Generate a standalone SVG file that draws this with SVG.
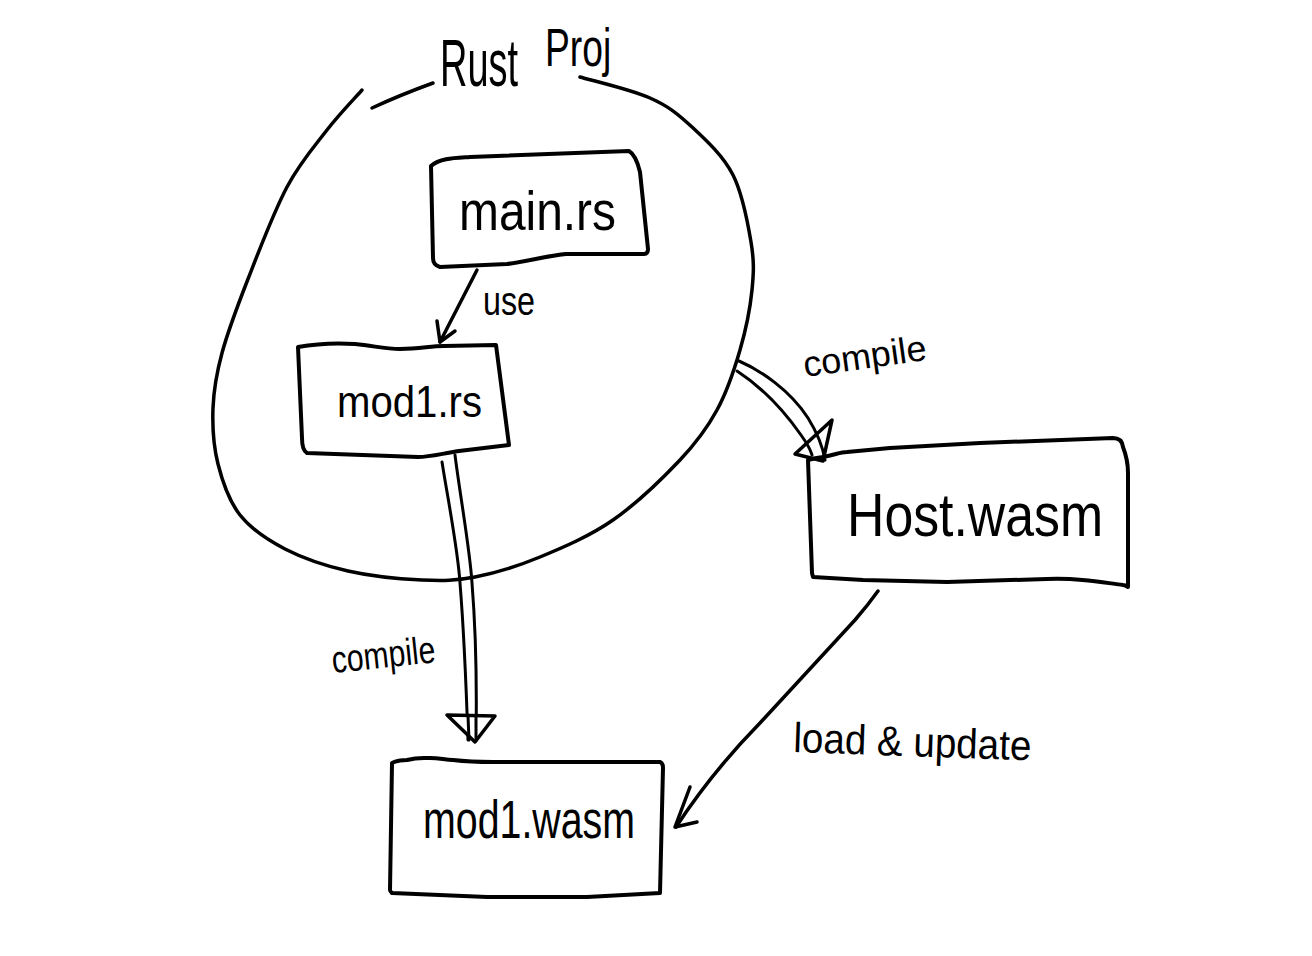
<svg xmlns="http://www.w3.org/2000/svg" width="1312" height="956" viewBox="0 0 1312 956">
<style>
.ln{fill:none;stroke:#000;stroke-width:3.5;stroke-linecap:round;stroke-linejoin:round}
.bx{fill:none;stroke:#000;stroke-width:4;stroke-linecap:round;stroke-linejoin:round}
.dl{fill:none;stroke:#000;stroke-width:3;stroke-linecap:round;stroke-linejoin:round}
.hd{fill:#fff;stroke:#000;stroke-width:3.5;stroke-linejoin:round}
text{font-family:"Liberation Sans",Arial,sans-serif;fill:#000}
</style>
<rect width="1312" height="956" fill="#fff"/>
<g id="rust-proj">
<path class="ln" d="M362,90 C356.2,96.7 339.5,113.8 327,130 C314.5,146.2 300.2,162.2 287,187 C273.8,211.8 258.8,251.3 248,279 C237.2,306.7 227.8,331.5 222,353 C216.2,374.5 213.7,389.5 213,408 C212.3,426.5 213.5,446.2 218,464 C222.5,481.8 228.8,500.8 240,515 C251.2,529.2 267,539.7 285,549 C303,558.3 325.2,565.8 348,571 C370.8,576.2 400.8,579 422,580 C443.2,581 455.3,580.8 475,577 C494.7,573.2 517,566.5 540,557 C563,547.5 589.7,536.2 613,520 C636.3,503.8 662.7,478.3 680,460 C697.3,441.7 707,428.3 717,410 C727,391.7 734.2,370 740,350 C745.8,330 750.2,308 752,290 C753.8,272 754.2,261.2 751,242 C747.8,222.8 742.8,194.2 733,175 C723.2,155.8 705.8,139.8 692,127 C678.2,114.2 668.7,106.3 650,98 C631.3,89.7 591.7,80.5 580,77"/>
<path class="ln" d="M372,108 Q400,95 433,83"/>
<text font-size="66" transform="translate(440 86) scale(0.575 1)">Rust</text>
<text font-size="54" transform="translate(545 66) scale(0.69 1)">Proj</text>
</g>
<g id="main-rs">
<path class="bx" d="M431,166 C440,158 455,158 470,157 L629,151 Q636,155 640,172 L648,249 Q648,254 644,254 L566,254 C545,256 525,262 507,264 L440,267 Q433,265 433,258 Z"/>
<text x="459" y="230" font-size="56" textLength="157" lengthAdjust="spacingAndGlyphs">main.rs</text>
</g>
<g id="mod1-rs">
<path class="bx" d="M298,347 C320,343 340,343 355,344 C375,346 385,349 400,349 C420,349 430,346 444,346 L496,345 L509,445 L459,451 C440,454 430,457 418,457 L307,453 Q302,450 302,438 Z"/>
<text x="337" y="417" font-size="44" textLength="145" lengthAdjust="spacingAndGlyphs">mod1.rs</text>
</g>
<g id="host-wasm">
<path class="bx" d="M808,460 Q815,458 823,457 C835,455 840,452 847,452 L890,448 L980,443 L1113,438 Q1122,438 1123,447 Q1128,460 1128,473 L1128,587 Q1125,585 1123,585 C1100,582 1080,578 1047,579 L947,582 L863,580 L813,577 L812,573 Z"/>
<text x="847" y="536" font-size="62" textLength="256" lengthAdjust="spacingAndGlyphs">Host.wasm</text>
</g>
<g id="mod1-wasm">
<path class="bx" d="M392,763 Q398,760 407,760 C418,757 425,758 430,758 C440,758 445,760 453,760 C470,762 480,762 493,762 L573,762 L660,762 Q663,763 663,768 L660,893 L587,897 L487,897 L392,893 Q390,891 390,890 Z"/>
<text x="423" y="838" font-size="54" textLength="212" lengthAdjust="spacingAndGlyphs">mod1.wasm</text>
</g>
<g id="connectors">
<path class="ln" d="M477,270 L440,342"/>
<path class="ln" d="M437,321 L440,342 L455,331"/>
<text x="483" y="315" font-size="40" textLength="52" lengthAdjust="spacingAndGlyphs">use</text>
<path class="dl" d="M442,462 C448,500 458,550 460,583 C463,620 466,680 468,740"/>
<path class="dl" d="M455,455 C460,495 470,550 472,583 C475,620 477,680 476,740"/>
<path class="hd" d="M447,715 L495,716 L475,742 Z" fill="none"/>
<path class="dl" d="M468,716 L469,740 M476,716 L476,740"/>
<text x="333" y="673" font-size="38" textLength="104" lengthAdjust="spacingAndGlyphs" transform="rotate(-6 333 673)">compile</text>
<path class="dl" d="M739,361 C760,370 790,390 808,418 C818,434 823,448 825,460"/>
<path class="dl" d="M737,371 C757,384 780,405 801,435 C806,442 810,448 812,455"/>
<path class="ln" d="M795,454 L832,420 L823,461 Z"/>
<text x="805" y="377" font-size="36" textLength="124" lengthAdjust="spacingAndGlyphs" transform="rotate(-8 805 377)">compile</text>
<path class="ln" d="M878,591 Q868,605 855,620 L760,723 Q712,772 676,827"/>
<path class="ln" d="M690,787 L675,827 L697,822"/>
<text x="793" y="752" font-size="42" textLength="238" lengthAdjust="spacingAndGlyphs" transform="rotate(2 793 752)">load &amp; update</text>
</g>
</svg>
